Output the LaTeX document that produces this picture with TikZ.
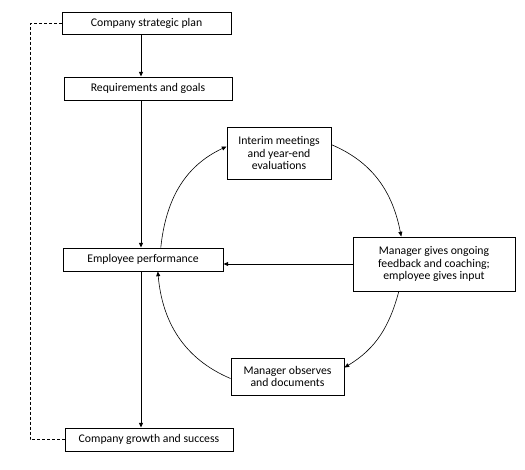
\documentclass[tikz,border=0pt]{standalone}
\usepackage{fontspec}
\setmainfont{Carlito}
\usetikzlibrary{arrows.meta}

\begin{document}
\begin{tikzpicture}[x=0.75pt, y=-0.75pt,
		box/.style={
			rectangle, draw=black, line width=0.75pt, inner sep=0pt, align=center,
			font=\fontsize{8.8}{9.6}\selectfont
		},
		flow/.style={-{Triangle[length=3.5pt,width=3pt]}, line width=0.75pt},
		loop/.style={-{Triangle[length=3.5pt,width=3pt]}, line width=0.45pt},
	]
	\useasboundingbox (0,0) rectangle (525,469);
	\coordinate (spine) at (141,0);
	\coordinate (side) at (30,0);
	% left column
	\node [box, minimum width=126.75pt, minimum height=16.5pt] (strat) at (146.5,23) {Company strategic plan};
	\node [box, minimum width=126pt, minimum height=17.25pt] (req) at (148,88.5) {Requirements and goals};
	\node [box, minimum width=120pt, minimum height=17.25pt] (perf) at (143,259.5) {Employee performance};
	\node [box, minimum width=126pt, minimum height=17.25pt] (growth) at (149,439.5) {Company growth and success};
	% cycle
	\node [box, minimum width=78pt, minimum height=39pt] (interim) at (279,153) {Interim meetings\\and year-end\\evaluations};
	\node [box, minimum width=121.5pt, minimum height=40.5pt] (feedback) at (434,264) {Manager gives ongoing\\feedback and coaching;\\employee gives input};
	\node [box, minimum width=84.75pt, minimum height=27.75pt] (observe) at (287.5,376.5) {Manager observes\\and documents};

	\draw[flow] (strat.south -| spine) to (req.north -| spine);
	\draw[flow] (req.south -| spine) to (perf.north -| spine);
	\draw[flow] (perf.south -| spine) to (growth.north -| spine);
	\draw[line width=0.75pt, dash pattern=on 2.25pt off 1.5pt] (strat.west) -- (strat.west -| side) -- (growth.west -| side) -- (growth.west);

	\draw[loop] (perf.34) to[out=84, in=205] (interim.173);
	\draw[loop] (interim.9) to[out=-23, in=101] (feedback.140);
	\draw[loop] (feedback.218) to[out=-105, in=31] (observe.9);
	\draw[loop] (observe.182) to[out=157, in=-85] (perf.-39);
	\draw[flow] (feedback.west) to (feedback.west -| perf.east);

\end{tikzpicture}
\end{document}
